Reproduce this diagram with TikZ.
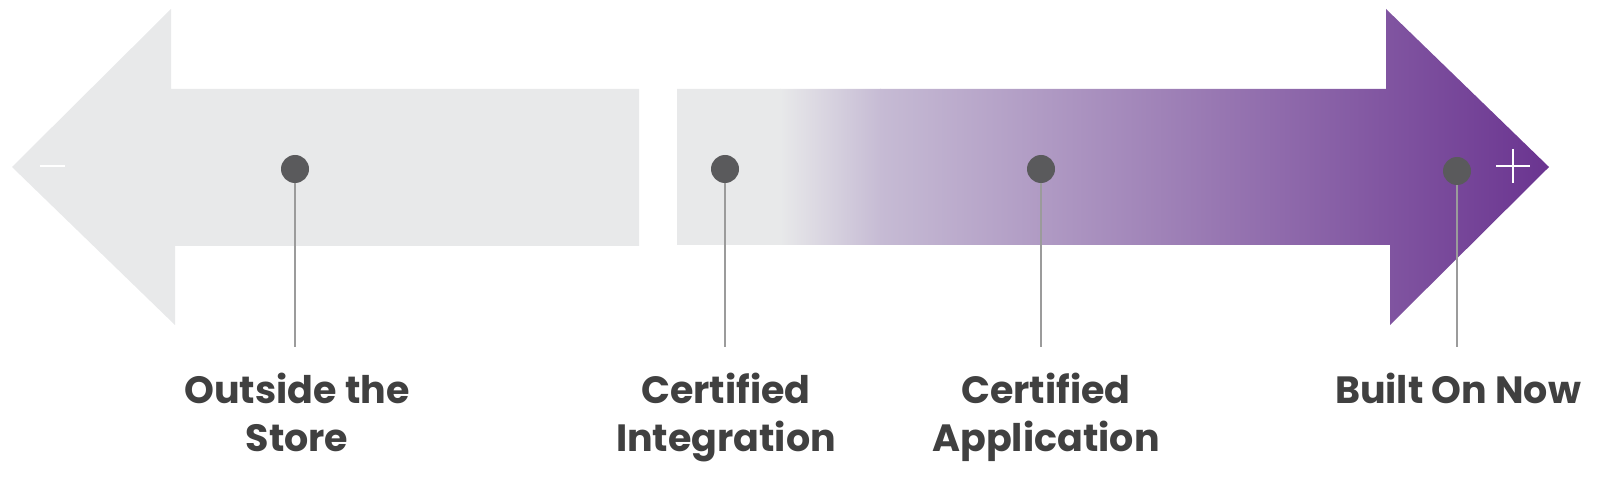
\documentclass[tikz,border=0pt]{standalone}
\usepackage{fontspec}
\setmainfont{Poppins}
\definecolor{leftc}{HTML}{E8E9EA}
\definecolor{midc}{HTML}{C6BBD4}
\definecolor{endc}{HTML}{6A3490}
\definecolor{dotc}{HTML}{5A5A5C}
\definecolor{stemc}{HTML}{9B9B9B}
\definecolor{txtc}{HTML}{404040}
\begin{document}
\begin{tikzpicture}[x=1pt,y=-1pt,
  dot/.style={circle,fill=dotc,minimum size=28pt,inner sep=0pt},
  stem/.style={draw=stemc,line width=2.5pt},
  lbl/.style={font=\fontsize{38}{48}\selectfont\bfseries,text=txtc,align=center,inner sep=0pt,anchor=base},
  sign/.style={draw=white,line width=2.2pt}]
\useasboundingbox (0,0) rectangle (1598,486);
% left arrow
\fill[leftc] (12,167) -- (171,9) -- (171,89) -- (639,89) -- (639,246) -- (175,246) -- (175,325) -- cycle;
% right arrow with gradient
\begin{scope}
\clip (677,89) -- (1386,89) -- (1386,9) -- (1549,167) -- (1390,325) -- (1390,245) -- (677,245) -- cycle;
\fill[leftc] (676,0) rectangle (781,330);
\shade[left color=leftc,right color=midc] (780,0) rectangle (881,330);
\shade[left color=midc,right color=endc] (880,0) rectangle (1550,330);
\end{scope}
% signs
\draw[sign] (40,166) -- (65,166);
\draw[sign] (1496,166) -- (1530,166);
\draw[sign] (1513,149) -- (1513,183);
% dots
\node[dot] (d1) at (295,169) {};
\node[dot] (d2) at (725,169) {};
\node[dot] (d3) at (1041,169) {};
\node[dot] (d4) at (1457,171) {};
\coordinate (e1) at (295,347);
\coordinate (e2) at (725,347);
\coordinate (e3) at (1041,347);
\coordinate (e4) at (1457,347);
\draw[stem] (d1.south) -- (e1);
\draw[stem] (d2.south) -- (e2);
\draw[stem] (d3.south) -- (e3);
\draw[stem] (d4.south) -- (e4);
% labels
\node[lbl] (l1) at (297,451) {Outside the\\Store};
\node[lbl] (l2) at (726,451) {Certified\\Integration};
\node[lbl] (l3) at (1046,451) {Certified\\Application};
\node[lbl] (l4) at (1458,403) {Built On Now};
\end{tikzpicture}
\end{document}
